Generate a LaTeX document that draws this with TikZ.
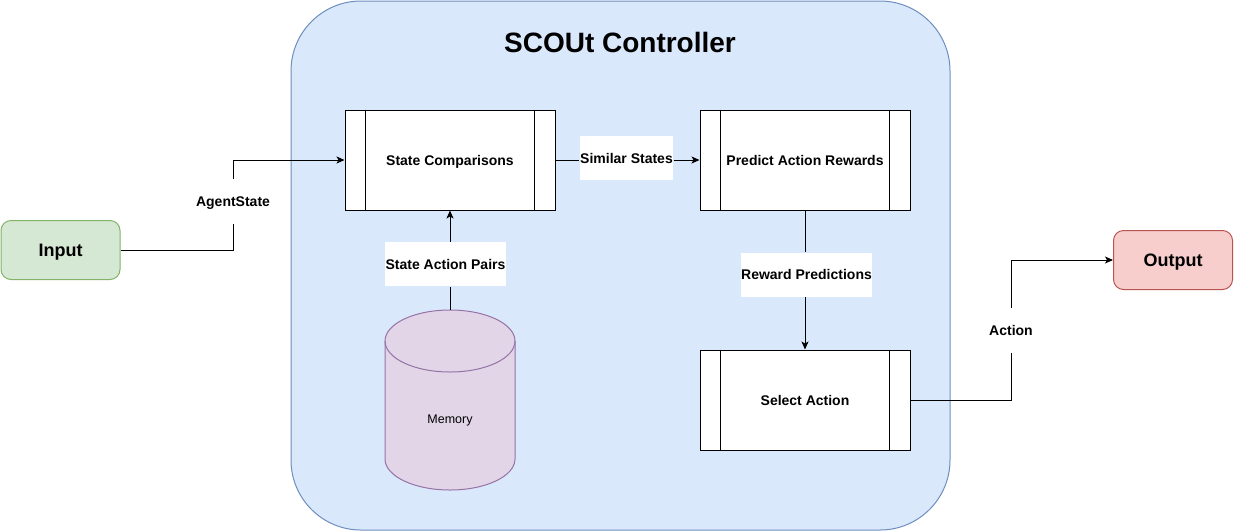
\documentclass[tikz,border=0pt]{standalone}
\usepackage{fontspec}
\setmainfont{Liberation Sans}
\usetikzlibrary{arrows.meta}
\definecolor{contfill}{HTML}{DAE8FC}
\definecolor{contstroke}{HTML}{6C8EBF}
\definecolor{inpfill}{HTML}{D5E8D4}
\definecolor{inpstroke}{HTML}{82B366}
\definecolor{outfill}{HTML}{F8CECC}
\definecolor{outstroke}{HTML}{B85450}
\definecolor{memfill}{HTML}{E1D5E7}
\definecolor{memstroke}{HTML}{9673A6}
\begin{document}
\begin{tikzpicture}[x=1pt,y=-1pt,line width=1pt,
  proc/.style={draw=black,fill=white,minimum width=210pt,minimum height=100pt,inner sep=0pt,text height=10pt,text depth=0pt,font=\bfseries\fontsize{14}{16}\selectfont},
  term/.style={rounded corners=10pt,minimum width=119pt,minimum height=59pt,inner sep=0pt,text height=13pt,text depth=0pt,font=\bfseries\fontsize{18}{21}\selectfont},
  lbl/.style={fill=white,inner xsep=0.5pt,inner ysep=0pt,minimum height=44pt,text height=10pt,text depth=0pt,font=\bfseries\fontsize{14}{16}\selectfont},
  conn/.style={draw=black,line width=1pt},
  arr/.style={conn,-{Stealth[length=8pt,width=7pt,inset=2pt]}}]
\useasboundingbox (0,0) rectangle (1234,531);
% container
\node[draw=contstroke,fill=contfill,rounded corners=70pt,minimum width=659pt,minimum height=529pt,inner sep=0pt,anchor=north west] (ctrl) at (290.5,0.5) {};
\node[font=\bfseries\fontsize{28}{32}\selectfont] (title) at (620,42) {SCOUt Controller};
% terminals
\node[term,draw=inpstroke,fill=inpfill] (in) at (60.5,250) {Input};
\node[term,draw=outstroke,fill=outfill] (out) at (1173,260) {Output};
% processes
\node[proc] (sc) at (450,160) {State Comparisons};
\node[proc] (par) at (805,160) {Predict Action Rewards};
\node[proc] (sel) at (805,400) {Select Action};
\foreach \n in {sc,par,sel}{
  \draw ([xshift=21pt]\n.north west) -- ([xshift=21pt]\n.south west);
  \draw ([xshift=-21pt]\n.north east) -- ([xshift=-21pt]\n.south east);
}
% memory cylinder
\node[minimum width=130pt,minimum height=180pt,inner sep=0pt] (mem) at (450,400) {};
\path[draw=memstroke,fill=memfill] (385,341) -- (385,459)
  arc[start angle=180,end angle=360,x radius=65pt,y radius=31pt] -- (515,341)
  arc[start angle=0,end angle=180,x radius=65pt,y radius=31pt] -- cycle;
\draw[memstroke] (385,341) arc[start angle=180,end angle=360,x radius=65pt,y radius=31pt];
\node[font=\fontsize{12.5}{14}\selectfont] (memtext) at (450,420) {Memory};
% labels
\node[lbl] (agent) at (233,201.5) {AgentState};
\node[lbl] (sim) at (626.5,158) {Similar States};
\node[lbl] (sap) at (445.5,264) {State Action Pairs};
\node[lbl] (rp) at (806.5,274.5) {Reward Predictions};
\node[lbl] (act) at (1011,330) {Action};
% connectors
\draw[conn] (in.east) -| (agent.south);
\draw[arr] (agent.north) |- (sc.west);
\draw[conn] (sc.east) -- (sc.east -| sim.west);
\draw[arr] (sim.east |- par.west) -- (par.west);
\draw[conn] (mem.north) -- (mem.north |- sap.south);
\draw[arr] (mem.north |- sap.north) -- (sc.south);
\draw[conn] (par.south) -- (par.south |- rp.north);
\draw[arr] (par.south |- rp.south) -- (sel.north);
\draw[conn] (sel.east) -| (act.south);
\draw[arr] (act.north) |- (out.west);
\end{tikzpicture}
\end{document}
